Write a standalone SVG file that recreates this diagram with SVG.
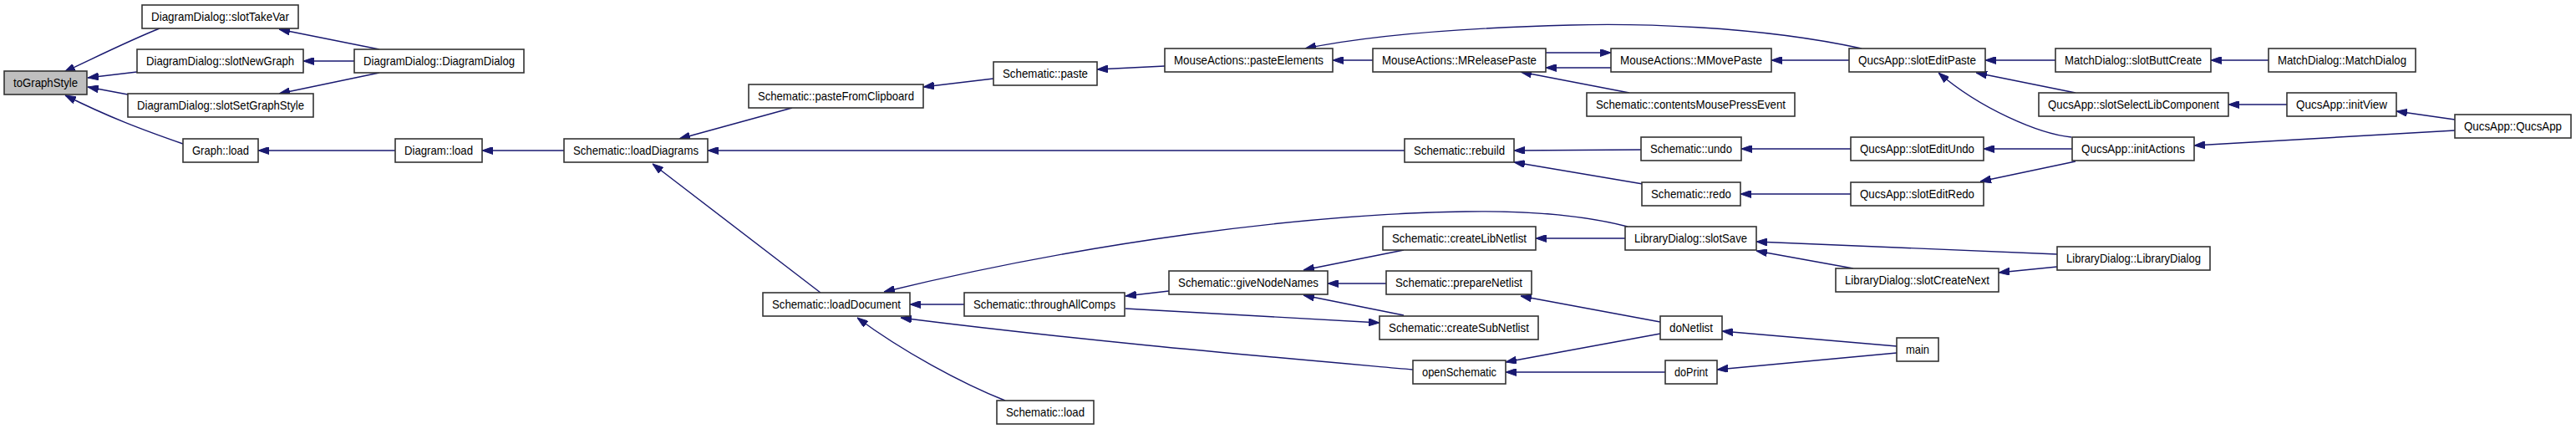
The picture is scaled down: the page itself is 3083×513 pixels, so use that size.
<svg xmlns="http://www.w3.org/2000/svg" width="3083" height="513" viewBox="0 0 3083 513">
<style>
.n rect{fill:#ffffff;stroke:#333333;stroke-width:1.6}
.n.root rect{fill:#bfbfbf}
.n text{font-family:"Liberation Sans",Arial,Helvetica,sans-serif;font-size:14.5px;fill:#000000;text-anchor:middle}
#edges path{fill:none;stroke:#191970;stroke-width:1.4;marker-end:url(#ah)}
</style>
<defs>
<marker id="ah" viewBox="0 0 13 9" markerUnits="userSpaceOnUse" markerWidth="13" markerHeight="9" refX="13" refY="4.5" orient="auto">
<path d="M0,0 L13,4.5 L0,9 z" fill="#191970" stroke="#191970" stroke-width="1"/>
</marker>
</defs>
<rect width="3083" height="513" fill="#ffffff"/>
<g id="edges">
<path d="M191,34 C158,47 128,62 77,86"/>
<path d="M164,86 L105,93"/>
<path d="M153,113 L105,104"/>
<path d="M219,172 C170,155 130,140 78,114"/>
<path d="M454,59 L334,35"/>
<path d="M424,73 L363,73"/>
<path d="M454,87 L334,112"/>
<path d="M473,180 L309,180"/>
<path d="M675,180 L577,180"/>
<path d="M948,129 L813,166"/>
<path d="M1189,94 L1105,104"/>
<path d="M1394,79 L1313,83"/>
<path d="M1681,180 L847,180"/>
<path d="M982,350 L781,196"/>
<path d="M1643,72 L1595,72"/>
<path d="M2228,58 C2100,30 1950,28 1880,30 C1760,33 1640,42 1562,58"/>
<path d="M1928,81 L1850,81"/>
<path d="M1850,63 L1928,63"/>
<path d="M1950,111 L1820,86"/>
<path d="M2213,72 L2120,72"/>
<path d="M1964,179 L1812,180"/>
<path d="M1966,220 L1812,194"/>
<path d="M2215,178 L2084,178"/>
<path d="M2215,232 L2083,232"/>
<path d="M2460,72 L2376,72"/>
<path d="M2715,72 L2646,72"/>
<path d="M2484,111 L2365,87"/>
<path d="M2479,164 C2440,160 2370,130 2320,87"/>
<path d="M2737,125 L2667,125"/>
<path d="M2938,143 L2868,133"/>
<path d="M2938,156 L2626,174"/>
<path d="M2480,178 L2374,178"/>
<path d="M2484,193 L2370,217"/>
<path d="M1948,271 C1890,256 1820,252 1754,253 C1560,256 1300,290 1058,349"/>
<path d="M1154,364 L1089,364"/>
<path d="M1691,442 C1500,425 1300,408 1078,380"/>
<path d="M1203,479 C1150,458 1080,420 1026,380"/>
<path d="M1399,348 L1347,354"/>
<path d="M1347,369 L1651,386"/>
<path d="M1680,299 L1560,323"/>
<path d="M1659,339 L1589,339"/>
<path d="M1680,377 L1560,353"/>
<path d="M1945,285 L1838,285"/>
<path d="M2462,304 L2102,289"/>
<path d="M2218,321 L2102,300"/>
<path d="M2462,319 L2392,326"/>
<path d="M1987,385 L1820,354"/>
<path d="M1987,399 L1802,433"/>
<path d="M1993,445 L1802,445"/>
<path d="M2270,414 L2061,396"/>
<path d="M2270,422 L2055,442"/>
</g>
<g id="n_toGraphStyle" class="n root"><rect x="5" y="85" width="99" height="28"/><text x="54.5" y="104" textLength="77" lengthAdjust="spacingAndGlyphs">toGraphStyle</text></g>
<g id="n_slotTakeVar" class="n"><rect x="170" y="6" width="187" height="28"/><text x="263.5" y="25" textLength="165" lengthAdjust="spacingAndGlyphs">DiagramDialog::slotTakeVar</text></g>
<g id="n_slotNewGraph" class="n"><rect x="164" y="59" width="199" height="28"/><text x="263.5" y="78" textLength="177" lengthAdjust="spacingAndGlyphs">DiagramDialog::slotNewGraph</text></g>
<g id="n_slotSetGraphStyle" class="n"><rect x="153" y="112" width="222" height="28"/><text x="264" y="131" textLength="200" lengthAdjust="spacingAndGlyphs">DiagramDialog::slotSetGraphStyle</text></g>
<g id="n_DiagramDialog" class="n"><rect x="424" y="59" width="203" height="28"/><text x="525.5" y="78" textLength="181" lengthAdjust="spacingAndGlyphs">DiagramDialog::DiagramDialog</text></g>
<g id="n_GraphLoad" class="n"><rect x="219" y="166" width="90" height="28"/><text x="264" y="185" textLength="68" lengthAdjust="spacingAndGlyphs">Graph::load</text></g>
<g id="n_DiagramLoad" class="n"><rect x="473" y="166" width="104" height="28"/><text x="525" y="185" textLength="82" lengthAdjust="spacingAndGlyphs">Diagram::load</text></g>
<g id="n_loadDiagrams" class="n"><rect x="675" y="166" width="172" height="28"/><text x="761" y="185" textLength="150" lengthAdjust="spacingAndGlyphs">Schematic::loadDiagrams</text></g>
<g id="n_pasteFromClipboard" class="n"><rect x="896" y="101" width="209" height="28"/><text x="1000.5" y="120" textLength="187" lengthAdjust="spacingAndGlyphs">Schematic::pasteFromClipboard</text></g>
<g id="n_paste" class="n"><rect x="1189" y="74" width="124" height="28"/><text x="1251" y="93" textLength="102" lengthAdjust="spacingAndGlyphs">Schematic::paste</text></g>
<g id="n_pasteElements" class="n"><rect x="1394" y="58" width="201" height="28"/><text x="1494.5" y="77" textLength="179" lengthAdjust="spacingAndGlyphs">MouseActions::pasteElements</text></g>
<g id="n_MReleasePaste" class="n"><rect x="1643" y="58" width="207" height="28"/><text x="1746.5" y="77" textLength="185" lengthAdjust="spacingAndGlyphs">MouseActions::MReleasePaste</text></g>
<g id="n_MMovePaste" class="n"><rect x="1928" y="58" width="192" height="28"/><text x="2024" y="77" textLength="170" lengthAdjust="spacingAndGlyphs">MouseActions::MMovePaste</text></g>
<g id="n_slotEditPaste" class="n"><rect x="2213" y="58" width="163" height="28"/><text x="2294.5" y="77" textLength="141" lengthAdjust="spacingAndGlyphs">QucsApp::slotEditPaste</text></g>
<g id="n_contentsMousePressEvent" class="n"><rect x="1899" y="111" width="249" height="28"/><text x="2023.5" y="130" textLength="227" lengthAdjust="spacingAndGlyphs">Schematic::contentsMousePressEvent</text></g>
<g id="n_rebuild" class="n"><rect x="1681" y="166" width="131" height="28"/><text x="1746.5" y="185" textLength="109" lengthAdjust="spacingAndGlyphs">Schematic::rebuild</text></g>
<g id="n_undo" class="n"><rect x="1964" y="164" width="120" height="28"/><text x="2024" y="183" textLength="98" lengthAdjust="spacingAndGlyphs">Schematic::undo</text></g>
<g id="n_redo" class="n"><rect x="1965" y="218" width="118" height="28"/><text x="2024" y="237" textLength="96" lengthAdjust="spacingAndGlyphs">Schematic::redo</text></g>
<g id="n_slotEditUndo" class="n"><rect x="2215" y="164" width="159" height="28"/><text x="2294.5" y="183" textLength="137" lengthAdjust="spacingAndGlyphs">QucsApp::slotEditUndo</text></g>
<g id="n_slotEditRedo" class="n"><rect x="2215" y="218" width="159" height="28"/><text x="2294.5" y="237" textLength="137" lengthAdjust="spacingAndGlyphs">QucsApp::slotEditRedo</text></g>
<g id="n_slotButtCreate" class="n"><rect x="2460" y="58" width="186" height="28"/><text x="2553" y="77" textLength="164" lengthAdjust="spacingAndGlyphs">MatchDialog::slotButtCreate</text></g>
<g id="n_MatchDialog" class="n"><rect x="2715" y="58" width="176" height="28"/><text x="2803" y="77" textLength="154" lengthAdjust="spacingAndGlyphs">MatchDialog::MatchDialog</text></g>
<g id="n_slotSelectLibComponent" class="n"><rect x="2440" y="111" width="227" height="28"/><text x="2553.5" y="130" textLength="205" lengthAdjust="spacingAndGlyphs">QucsApp::slotSelectLibComponent</text></g>
<g id="n_initView" class="n"><rect x="2737" y="111" width="131" height="28"/><text x="2802.5" y="130" textLength="109" lengthAdjust="spacingAndGlyphs">QucsApp::initView</text></g>
<g id="n_QucsApp" class="n"><rect x="2938" y="137" width="139" height="28"/><text x="3007.5" y="156" textLength="117" lengthAdjust="spacingAndGlyphs">QucsApp::QucsApp</text></g>
<g id="n_initActions" class="n"><rect x="2480" y="164" width="146" height="28"/><text x="2553" y="183" textLength="124" lengthAdjust="spacingAndGlyphs">QucsApp::initActions</text></g>
<g id="n_loadDocument" class="n"><rect x="913" y="350" width="176" height="28"/><text x="1001" y="369" textLength="154" lengthAdjust="spacingAndGlyphs">Schematic::loadDocument</text></g>
<g id="n_throughAllComps" class="n"><rect x="1154" y="350" width="192" height="28"/><text x="1250" y="369" textLength="170" lengthAdjust="spacingAndGlyphs">Schematic::throughAllComps</text></g>
<g id="n_giveNodeNames" class="n"><rect x="1399" y="324" width="190" height="28"/><text x="1494" y="343" textLength="168" lengthAdjust="spacingAndGlyphs">Schematic::giveNodeNames</text></g>
<g id="n_SchematicLoad" class="n"><rect x="1193" y="479" width="116" height="28"/><text x="1251" y="498" textLength="94" lengthAdjust="spacingAndGlyphs">Schematic::load</text></g>
<g id="n_createLibNetlist" class="n"><rect x="1655" y="271" width="183" height="28"/><text x="1746.5" y="290" textLength="161" lengthAdjust="spacingAndGlyphs">Schematic::createLibNetlist</text></g>
<g id="n_slotSave" class="n"><rect x="1945" y="271" width="157" height="28"/><text x="2023.5" y="290" textLength="135" lengthAdjust="spacingAndGlyphs">LibraryDialog::slotSave</text></g>
<g id="n_prepareNetlist" class="n"><rect x="1659" y="324" width="174" height="28"/><text x="1746" y="343" textLength="152" lengthAdjust="spacingAndGlyphs">Schematic::prepareNetlist</text></g>
<g id="n_createSubNetlist" class="n"><rect x="1651" y="378" width="190" height="28"/><text x="1746" y="397" textLength="168" lengthAdjust="spacingAndGlyphs">Schematic::createSubNetlist</text></g>
<g id="n_doNetlist" class="n"><rect x="1987" y="378" width="74" height="28"/><text x="2024" y="397" textLength="52" lengthAdjust="spacingAndGlyphs">doNetlist</text></g>
<g id="n_openSchematic" class="n"><rect x="1691" y="431" width="111" height="28"/><text x="1746.5" y="450" textLength="89" lengthAdjust="spacingAndGlyphs">openSchematic</text></g>
<g id="n_doPrint" class="n"><rect x="1993" y="431" width="62" height="28"/><text x="2024" y="450" textLength="40" lengthAdjust="spacingAndGlyphs">doPrint</text></g>
<g id="n_main" class="n"><rect x="2270" y="404" width="50" height="28"/><text x="2295" y="423" textLength="28" lengthAdjust="spacingAndGlyphs">main</text></g>
<g id="n_slotCreateNext" class="n"><rect x="2197" y="321" width="195" height="28"/><text x="2294.5" y="340" textLength="173" lengthAdjust="spacingAndGlyphs">LibraryDialog::slotCreateNext</text></g>
<g id="n_LibraryDialog" class="n"><rect x="2462" y="295" width="183" height="28"/><text x="2553.5" y="314" textLength="161" lengthAdjust="spacingAndGlyphs">LibraryDialog::LibraryDialog</text></g>
</svg>
